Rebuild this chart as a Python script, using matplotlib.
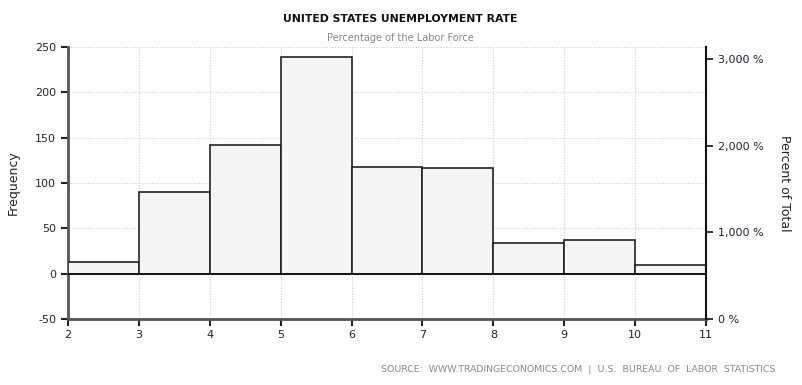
import matplotlib.pyplot as plt

plt.rcParams["axes.unicode_minus"] = False

# histogram of US unemployment rate (bins of 1 percentage point)
bin_edges = [2, 3, 4, 5, 6, 7, 8, 9, 10, 11]
counts = [13, 90, 142, 239, 118, 116, 34, 37, 10]

freq_ticks = [-50, 0, 50, 100, 150, 200, 250]
pct_ticks = [0, 1000, 2000, 3000]
pct_labels = ["0 %", "1,000 %", "2,000 %", "3,000 %"]

fig = plt.figure(figsize=(8.03, 3.85), dpi=100)
ax = fig.add_axes([68 / 803, 1 - 319 / 385, (706 - 68) / 803, (319 - 47) / 385])

lefts = bin_edges[:-1]
widths = [b - a for a, b in zip(bin_edges[:-1], bin_edges[1:])]
ax.bar(lefts, counts, width=widths, align="edge", color="#f4f4f4",
       edgecolor="#222222", linewidth=1.2, zorder=3)
ax.axhline(0, color="#111111", linewidth=1.2, zorder=4)

ax.set_xlim(bin_edges[0], bin_edges[-1])
ax.set_ylim(-50, 250)
ax.set_xticks(bin_edges)
ax.set_yticks(freq_ticks)
ax.grid(True, color="#cccccc", linestyle=(0, (1, 1.5)), linewidth=0.8, zorder=0)

for s in ["top", "right"]:
    ax.spines[s].set_visible(False)
ax.spines["left"].set_color("#555555")
ax.spines["left"].set_linewidth(2)
ax.spines["bottom"].set_color("#555555")
ax.spines["bottom"].set_linewidth(2)
ax.tick_params(axis="both", colors="#222222", labelsize=8, length=5, width=1.5,
               labelcolor="#222233")
ax.tick_params(axis="x", pad=3)
ax.set_ylabel("Frequency", fontsize=9, color="#222222", labelpad=11)

ax2 = ax.twinx()
ax2.set_ylim(0, 3141)
ax2.set_yticks(pct_ticks)
ax2.set_yticklabels(pct_labels)
for s in ["top", "left", "bottom"]:
    ax2.spines[s].set_visible(False)
ax2.spines["right"].set_color("#111111")
ax2.spines["right"].set_linewidth(1.5)
ax2.tick_params(axis="y", colors="#111111", labelsize=8, length=5, width=1.2,
                labelcolor="#222233")
ax2.set_ylabel("Percent of Total", fontsize=9, color="#222222", rotation=270,
               labelpad=20)

fig.text(400 / 803, 1 - 19 / 385, "UNITED STATES UNEMPLOYMENT RATE",
         ha="center", va="center", fontsize=7.8, fontweight="bold", color="#111111")
fig.text(400 / 803, 1 - 38 / 385, "Percentage of the Labor Force",
         ha="center", va="center", fontsize=7, color="#888888")
fig.text(775 / 803, 1 - 370 / 385,
         "SOURCE:  WWW.TRADINGECONOMICS.COM  |  U.S.  BUREAU  OF  LABOR  STATISTICS",
         ha="right", va="center", fontsize=6.75, color="#888888")

fig.savefig("out.png", dpi=100)
